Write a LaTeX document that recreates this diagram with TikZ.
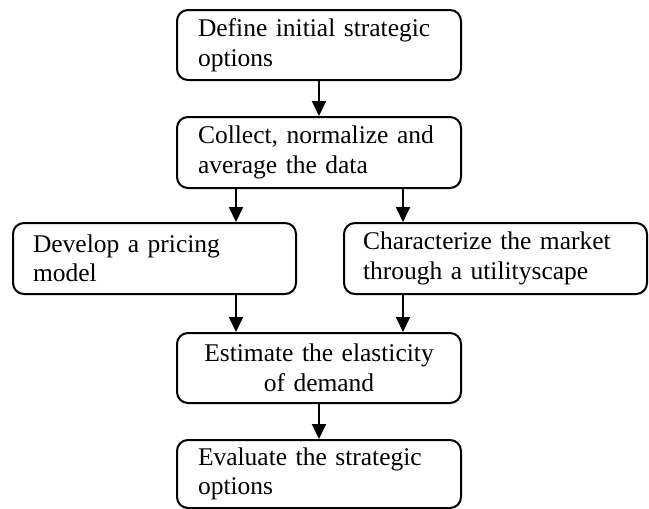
\documentclass[tikz,border=0pt]{standalone}
\usepackage{fontspec}
\setmainfont{Liberation Serif}
\usetikzlibrary{arrows.meta}
\begin{document}
\begin{tikzpicture}[x=1pt,y=-1pt,
  box/.style={draw, line width=2pt, rounded corners=11pt, inner sep=0pt,
    font=\fontsize{25.5}{29.5}\selectfont, align=left, anchor=north west},
  arr/.style={-{Triangle[length=15pt,width=14pt]}, line width=2pt}]
\useasboundingbox (0,0) rectangle (649,509);
\node[box, minimum width=284pt, minimum height=70pt, text width=242pt] (b1) at (176,9) {Define initial strategic\\options};
\node[box, minimum width=284pt, minimum height=71pt, text width=242pt] (b2) at (176,116) {Collect, normalize and\\average the data};
\node[box, minimum width=283pt, minimum height=71pt, text width=243pt] (b3) at (12,222) {Develop a pricing\\model};
\node[box, minimum width=303pt, minimum height=71pt, text width=265pt] (b4) at (343,222) {Characterize the market\\through a utilityscape};
\node[box, minimum width=284pt, minimum height=70pt, text width=242pt, align=center] (b5) at (176,332) {Estimate the elasticity\\of demand};
\node[box, minimum width=284pt, minimum height=68pt, text width=242pt] (b6) at (176,439) {Evaluate the strategic\\options};
\draw[arr] (b1) -- (b2);
\draw[arr] ([xshift=60pt]b2.south west) -- ([xshift=60pt]b2.south west |- b3.north);
\draw[arr] ([xshift=-59pt]b2.south east) -- ([xshift=-59pt]b2.south east |- b4.north);
\draw[arr] ([xshift=60pt]b5.north west |- b3.south) -- ([xshift=60pt]b5.north west);
\draw[arr] ([xshift=-59pt]b5.north east |- b4.south) -- ([xshift=-59pt]b5.north east);
\draw[arr] (b5) -- (b6);
\end{tikzpicture}
\end{document}
